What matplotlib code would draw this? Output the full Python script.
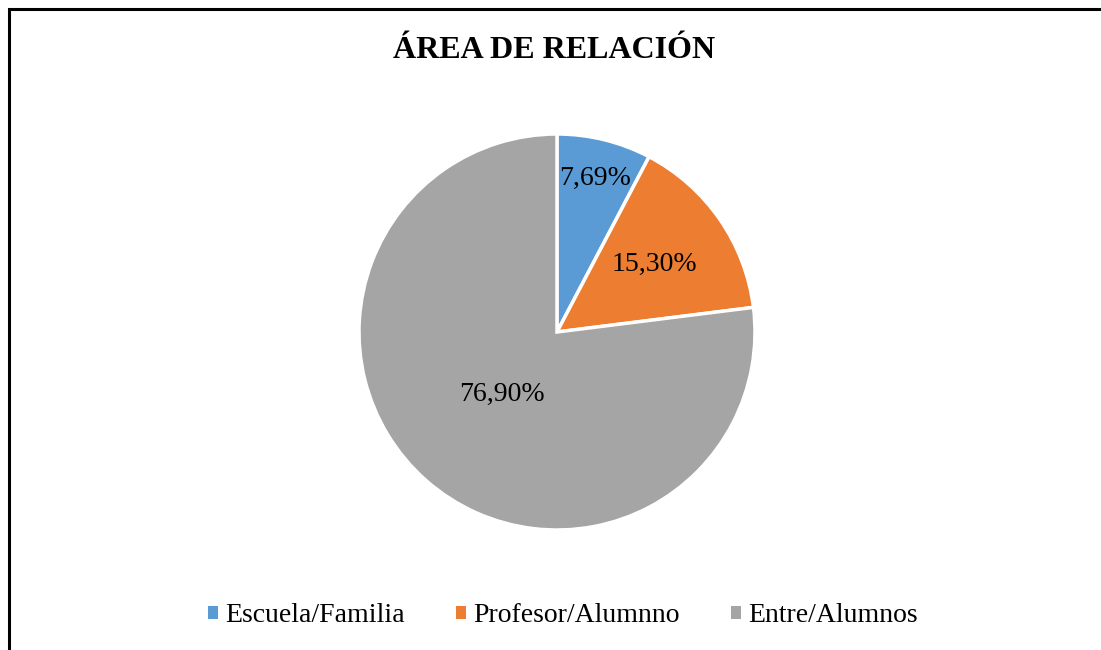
import numpy as np
import matplotlib.pyplot as plt
from matplotlib.patches import Rectangle, Patch

plt.rcParams['font.family'] = ['Liberation Serif', 'DejaVu Serif']

categories = ['Escuela/Familia', 'Profesor/Alumnno', 'Entre/Alumnos']
values = [7.69, 15.30, 76.90]
colors = ['#5b9bd5', '#ed7d31', '#a5a5a5']
label_dist = [0.80, 0.60, 0.42]

fig = plt.figure(figsize=(11.01, 6.5), dpi=100)
# chart border (right and bottom edges fall outside the image)
top = 1 - 9 / 650
fig.patches.append(Rectangle((9 / 1101, -0.1), 1.2, top + 0.1,
                             transform=fig.transFigure, fill=False,
                             edgecolor='black', linewidth=2.2))

# pie axes: centre (557, 332), radius ~198 px
r = 198
cx, cy = 557, 332
ax = fig.add_axes([(cx - r) / 1101, 1 - (cy + r) / 650, 2 * r / 1101, 2 * r / 650])
wedges, _ = ax.pie(values, colors=colors, startangle=90, counterclock=False,
                   wedgeprops=dict(edgecolor='white', linewidth=2.5))
ax.set_xlim(-1, 1)
ax.set_ylim(-1, 1)
ax.set_aspect('auto')

total = sum(values)
start = 90.0
for v, d in zip(values, label_dist):
    mid = np.deg2rad(start - v / total * 360 / 2)
    ax.text(d * np.cos(mid), d * np.sin(mid), f"{v:.2f}".replace('.', ',') + '%',
            ha='center', va='center', fontsize=20)
    start -= v / total * 360

fig.text(554 / 1101, 1 - 50 / 650, 'ÁREA DE RELACIÓN', ha='center', va='center',
         fontsize=23, fontweight='bold')

handles = [Patch(facecolor=c, edgecolor='none') for c in colors]
fig.legend(handles, categories, loc='center', bbox_to_anchor=(563 / 1101, 1 - 616 / 650),
           ncol=3, frameon=False, fontsize=20, handlelength=0.36, handleheight=0.36,
           handletextpad=0.25, columnspacing=1.85)

fig.savefig('out.png', dpi=100)
